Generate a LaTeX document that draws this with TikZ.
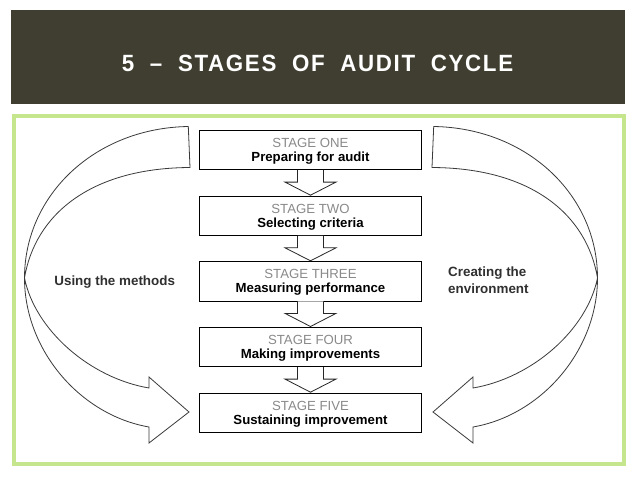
\documentclass[tikz,border=0pt]{standalone}
\usepackage{fontspec}
\setmainfont{Liberation Sans}
\newfontfamily\titlefont[LetterSpace=7,FakeStretch=0.95,WordSpace=2.0]{Liberation Sans}
\usetikzlibrary{calc}
\definecolor{hdrcol}{HTML}{403E30}
\definecolor{framecol}{HTML}{C6E68E}
\definecolor{stagegray}{HTML}{8A8A8A}
\definecolor{curvecol}{HTML}{3A3A3A}
\definecolor{labelcol}{HTML}{303030}
\begin{document}
\begin{tikzpicture}[x=1pt,y=-1pt,
  header/.style={fill=hdrcol, draw=none, minimum width=614.5pt, minimum height=94pt, inner sep=0pt},
  titletext/.style={text=white, font=\titlefont\bfseries\fontsize{23.5}{26}\selectfont, inner sep=0pt},
  frame/.style={draw=framecol, line width=4pt},
  stagebox/.style={draw=black, line width=0.9pt, fill=white, minimum width=222.4pt, minimum height=39.3pt, inner sep=0pt},
  stagetitle/.style={text=stagegray, font=\fontsize{13.2}{15}\selectfont, inner sep=0pt, anchor=base},
  stagename/.style={text=black, font=\bfseries\fontsize{13.2}{15}\selectfont, inner sep=0pt, anchor=base},
  blockarrow/.style={draw=black!85, line width=0.8pt, fill=white, line join=miter},
  cyclearrow/.style={draw=curvecol, line width=0.8pt, fill=white, line join=miter},
  sidelabel/.style={text=labelcol, font=\bfseries\fontsize{13.4}{16.7}\selectfont, inner sep=0pt}
]
\path[use as bounding box, fill=white] (0,0) rectangle (638,479);

% header
\node[header] (hdr) at (318,57) {};
\node[titletext] (title) at (317.5,63.5) {5 – STAGES OF AUDIT CYCLE};

% green frame
\draw[frame] (13.5,115.5) rectangle (624,464);

% curved arrows (left, then mirrored right)
\path[cyclearrow]
  (188.3,126.5) -- (190,167.5)
  .. controls (90,168) and (35,215) .. (24.5,278)
  .. controls (35,330) and (90,378) .. (149,388)
  -- (149,377) -- (189,412) -- (149,443) -- (149,427)
  .. controls (80,415) and (24.5,350) .. (24.5,278)
  .. controls (24.5,195) and (95,128) .. (188.3,126.5) -- cycle;
\begin{scope}[xshift=622pt, xscale=-1]
\path[cyclearrow]
  (188.3,126.5) -- (190,167.5)
  .. controls (90,168) and (35,215) .. (24.5,278)
  .. controls (35,330) and (90,378) .. (149,388)
  -- (149,377) -- (189,412) -- (149,443) -- (149,427)
  .. controls (80,415) and (24.5,350) .. (24.5,278)
  .. controls (24.5,195) and (95,128) .. (188.3,126.5) -- cycle;
\end{scope}

% stage boxes
\node[stagebox] (s1) at (310.5,150) {};
\node[stagebox] (s2) at (310.5,215.7) {};
\node[stagebox] (s3) at (310.5,281.3) {};
\node[stagebox] (s4) at (310.5,347) {};
\node[stagebox] (s5) at (310.5,412.7) {};

\node[stagetitle] (s1t) at ($(s1.center)+(0,-2.7)$) {STAGE ONE};
\node[stagename]  (s1n) at ($(s1.center)+(0,11.3)$) {Preparing for audit};
\node[stagetitle] (s2t) at ($(s2.center)+(0,-2.7)$) {STAGE TWO};
\node[stagename]  (s2n) at ($(s2.center)+(0,11.3)$) {Selecting criteria};
\node[stagetitle] (s3t) at ($(s3.center)+(0,-2.7)$) {STAGE THREE};
\node[stagename]  (s3n) at ($(s3.center)+(0,11.3)$) {Measuring performance};
\node[stagetitle] (s4t) at ($(s4.center)+(0,-2.7)$) {STAGE FOUR};
\node[stagename]  (s4n) at ($(s4.center)+(0,11.3)$) {Making improvements};
\node[stagetitle] (s5t) at ($(s5.center)+(0,-2.7)$) {STAGE FIVE};
\node[stagename]  (s5n) at ($(s5.center)+(0,11.3)$) {Sustaining improvement};

% block arrows between stages
\foreach \a/\b in {s1/s2,s2/s3,s3/s4,s4/s5}{
  \path[blockarrow]
    ($(\a.south)+(-13,0)$) -- ($(\a.south)+(-13,12)$) -- ($(\a.south)+(-25.5,12)$)
    -- ($(\b.north)+(0,-0.4)$)
    -- ($(\a.south)+(25.5,12)$) -- ($(\a.south)+(13,12)$) -- ($(\a.south)+(13,0)$);
}

% side labels
\node[sidelabel] (lm) at (114.7,282.3) {Using the methods};
\node[sidelabel, align=left, anchor=west] (rm) at (448,280.5) {Creating the\\environment};
\end{tikzpicture}
\end{document}
